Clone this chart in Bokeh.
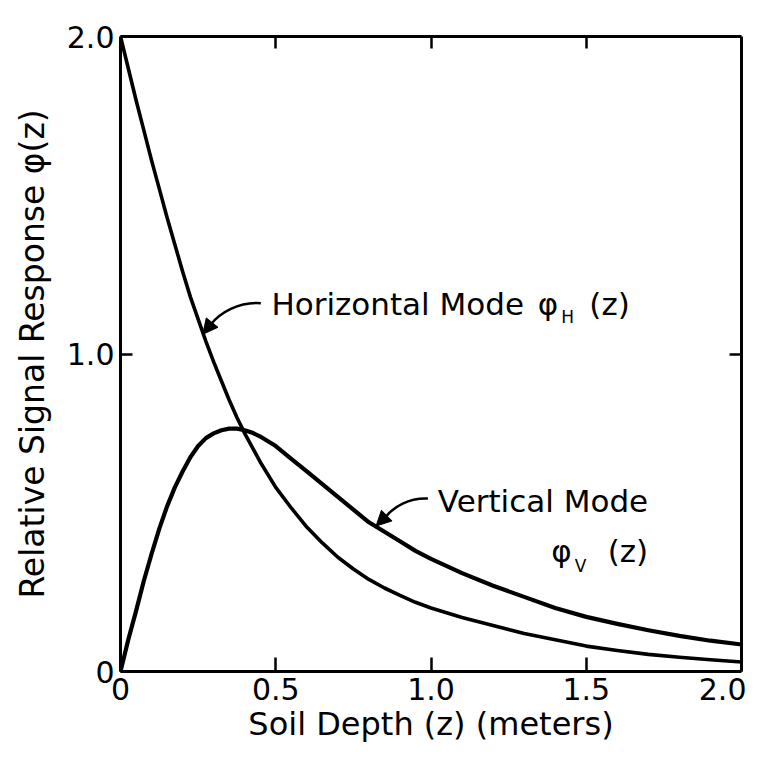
from bokeh.plotting import figure
from bokeh.models import Range1d, FixedTicker, LinearAxis, Label, Arrow, NormalHead
from bokeh.embed import file_html
from bokeh.resources import INLINE

# ---- data ----
z = [0.0, 0.025, 0.05, 0.075, 0.1, 0.125, 0.15, 0.175, 0.2, 0.225, 0.25, 0.275,
     0.3, 0.325, 0.35, 0.375, 0.4, 0.425, 0.45, 0.5, 0.55, 0.6, 0.65, 0.7, 0.75,
     0.8, 0.85, 0.9, 0.95, 1.0, 1.1, 1.2, 1.3, 1.4, 1.5, 1.6, 1.7, 1.8, 1.9, 2.0]
phi_h = [2.0, 1.90, 1.80, 1.705, 1.61, 1.52, 1.43, 1.345, 1.26, 1.18, 1.11, 1.04,
         0.975, 0.915, 0.855, 0.80, 0.75, 0.705, 0.66, 0.58, 0.515, 0.455, 0.405,
         0.36, 0.323, 0.29, 0.263, 0.24, 0.218, 0.20, 0.17, 0.145, 0.12, 0.10,
         0.08, 0.066, 0.054, 0.045, 0.037, 0.03]
phi_v = [0.0, 0.10, 0.19, 0.285, 0.37, 0.45, 0.52, 0.58, 0.63, 0.675, 0.71, 0.735,
         0.75, 0.76, 0.765, 0.765, 0.76, 0.752, 0.74, 0.71, 0.67, 0.63, 0.59, 0.55,
         0.51, 0.47, 0.44, 0.41, 0.38, 0.355, 0.31, 0.27, 0.235, 0.20, 0.172, 0.15,
         0.13, 0.112, 0.097, 0.085]

x_ticks = [0.0, 0.5, 1.0, 1.5, 2.0]
x_tick_labels = ["0", "0.5", "1.0", "1.5", "2.0"]
y_ticks = [0.0, 1.0, 2.0]
y_tick_labels = ["0", "1.0", "2.0"]
top_ticks = [0.5, 1.0, 1.5]
right_ticks = [1.0]

FONT = "DejaVu Sans"

p = figure(width=746, height=751, x_range=Range1d(0, 2), y_range=Range1d(0, 2),
           output_backend="svg", toolbar_location=None,
           min_border_left=120, min_border_right=5, min_border_top=36,
           min_border_bottom=80)
p.grid.visible = False
p.outline_line_color = None

def style_axis(ax, tick_len):
    ax.axis_line_width = 3
    ax.axis_line_color = "black"
    ax.major_tick_in = tick_len
    ax.major_tick_out = 0
    ax.major_tick_line_width = 2.5
    ax.major_tick_line_color = "black"
    ax.minor_tick_line_color = None
    ax.major_label_text_font = FONT
    ax.major_label_text_font_size = "30px"
    ax.major_label_text_color = "black"
    ax.axis_label_text_font = FONT
    ax.axis_label_text_font_size = "32px"
    ax.axis_label_text_font_style = "normal"
    ax.axis_label_text_color = "black"

xa = p.xaxis[0]
xa.ticker = FixedTicker(ticks=x_ticks)
xa.major_label_overrides = dict(zip(x_ticks, x_tick_labels))
style_axis(xa, 14)
xa.major_label_standoff = 6
xa.axis_label = "Soil Depth (z) (meters)"
xa.axis_label_standoff = 2

ya = p.yaxis[0]
ya.ticker = FixedTicker(ticks=y_ticks)
ya.major_label_overrides = dict(zip(y_ticks, y_tick_labels))
style_axis(ya, 12)
ya.major_label_standoff = 6
ya.axis_label = "Relative Signal Response φ(z)"
ya.axis_label_text_font_size = "33px"
ya.axis_label_standoff = 12

top = LinearAxis(ticker=FixedTicker(ticks=top_ticks),
                 major_label_overrides={t: "" for t in top_ticks})
style_axis(top, 12)
top.major_label_standoff = 0
p.add_layout(top, "above")

right = LinearAxis(ticker=FixedTicker(ticks=right_ticks),
                   major_label_overrides={t: "" for t in right_ticks})
style_axis(right, 12)
right.major_label_standoff = 0
p.add_layout(right, "right")

# curves
p.line(z, phi_h, line_width=3.6, line_color="black", line_join="round")
p.line(z, phi_v, line_width=4.2, line_color="black", line_join="round")

# annotations
def lab(x, y, text, size="31px", align="left", xo=0, yo=0):
    p.add_layout(Label(x=x, y=y, text=text, text_font=FONT, text_font_size=size,
                       text_align=align, text_baseline="middle", text_color="black",
                       x_offset=xo, y_offset=yo))

# Horizontal mode label
lab(0.486, 1.157, "Horizontal Mode")
lab(1.41, 1.157, "φ", align="right")
lab(1.41, 1.157, "H", size="17px", xo=3, yo=-13)
lab(1.41, 1.157, "(z)", xo=31)

# Vertical mode label
lab(1.022, 0.536, "Vertical Mode")
lab(1.453, 0.38, "φ", align="right")
lab(1.453, 0.38, "V", size="17px", xo=3, yo=-15)
lab(1.453, 0.38, "(z)", xo=36)

# curved arrows
p.bezier(x0=[0.452, 0.99], y0=[1.16, 0.545],
         x1=[0.29, 0.85], y1=[1.092, 0.483],
         cx0=[0.38, 0.93], cy0=[1.165, 0.548],
         cx1=[0.32, 0.88], cy1=[1.13, 0.52],
         line_width=2.5, line_color="black")
for (xs, ys, xe, ye) in [(0.292, 1.095, 0.265, 1.062), (0.852, 0.486, 0.823, 0.458)]:
    p.add_layout(Arrow(end=NormalHead(size=15, fill_color="black", line_color="black"),
                       x_start=xs, y_start=ys, x_end=xe, y_end=ye,
                       line_width=2.5, line_color="black"))

open("out.html", "w").write(file_html(p, INLINE))
